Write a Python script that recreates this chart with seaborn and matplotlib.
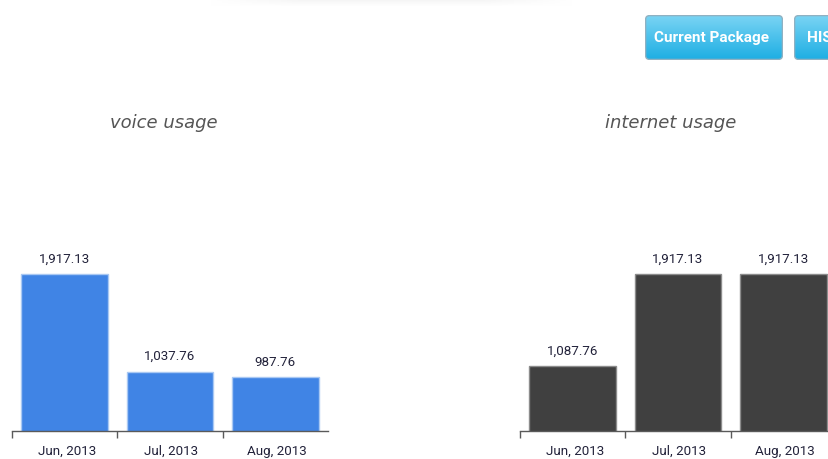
import numpy as np
import pandas as pd
import matplotlib
matplotlib.use("Agg")
import matplotlib.pyplot as plt
from matplotlib.patches import FancyBboxPatch
from matplotlib.colors import LinearSegmentedColormap
import seaborn as sns

# ---- data -------------------------------------------------------------
months = ["Jun, 2013", "Jul, 2013", "Aug, 2013"]
voice_usage = [1917.13, 1037.76, 987.76]
internet_usage = [1087.76, 1917.13, 1917.13]
chart_titles = ["voice usage", "internet usage"]
button_labels = ["Current Package", "HISTORY"]

# ---- canvas -----------------------------------------------------------
W, H, DPI = 829, 459, 100
sns.set_theme(style="white")
plt.rcParams["font.family"] = ["Roboto", "DejaVu Sans"]

fig = plt.figure(figsize=(W / DPI, H / DPI), dpi=DPI)
fig.patch.set_facecolor("white")


def px_rect(x0, y0, x1, y1):
    """Pixel box (origin top-left) -> figure-fraction rect."""
    return [x0 / W, 1 - y1 / H, (x1 - x0) / W, (y1 - y0) / H]


Y_MIN, Y_MAX = 500, 3200
PX_PER_UNIT = 0.1106
BASELINE = 431
TOP = BASELINE - (Y_MAX - Y_MIN) * PX_PER_UNIT
LABEL_COLOR = "#22223a"


def usage_panel(x0, values, color, edge):
    ax = fig.add_axes(px_rect(x0, TOP, x0 + 316, BASELINE))
    df = pd.DataFrame({"month": months, "value": values})
    sns.barplot(data=df, x="month", y="value", ax=ax, color=color,
                saturation=1, width=0.82, edgecolor=edge, linewidth=1.0)
    ax.set_xlim(-0.5, 2.5)
    ax.set_ylim(Y_MIN, Y_MAX)
    ax.set_xlabel("")
    ax.set_ylabel("")
    ax.set_yticks([])
    ax.set_facecolor("none")
    for side in ("left", "top", "right"):
        ax.spines[side].set_visible(False)
    ax.spines["bottom"].set_color("#5a5a5a")
    ax.spines["bottom"].set_linewidth(1.0)

    # band separators as major ticks, month names as minor tick labels
    ax.set_xticks([-0.5, 0.5, 1.5])
    ax.set_xticklabels(["", "", ""])
    ax.set_xticks([0.02, 1.01, 2.01], minor=True)
    ax.set_xticklabels(months, minor=True)
    ax.tick_params(axis="x", which="major", bottom=True, length=5,
                   width=1.0, color="#5a5a5a", direction="out")
    ax.tick_params(axis="x", which="minor", bottom=True, length=0, pad=10,
                   labelsize=9.6, labelcolor=LABEL_COLOR)

    ax.bar_label(ax.containers[0],
                 labels=[f"{v:,.2f}" for v in values],
                 padding=6, fontsize=9.6, color=LABEL_COLOR)
    return ax


usage_panel(12, voice_usage, "#4084e5", "#a9c8f3")
usage_panel(520, internet_usage, "#404040", "#8c8c8c")

# ---- panel headings --------------------------------------------------
for title, cx in zip(chart_titles, (164, 671)):
    fig.text(cx / W, 1 - 123 / H, title, ha="center", va="center",
             family="DejaVu Sans", style="oblique", fontsize=13,
             color="#555555")

# ---- navigation buttons ----------------------------------------------
btn_cmap = LinearSegmentedColormap.from_list("btn", ["#7ad4f4", "#1daee3"])


def button(x0, y0, x1, y1, label, text_x):
    bw, bh = x1 - x0, y1 - y0
    bax = fig.add_axes(px_rect(x0, y0, x1, y1))
    bax.set_xlim(0, bw)
    bax.set_ylim(bh, 0)
    bax.axis("off")
    grad = np.linspace(0, 1, 64)[:, None]
    im = bax.imshow(grad, extent=(0, bw, bh, 0), cmap=btn_cmap,
                    aspect="auto", interpolation="bilinear")
    box = FancyBboxPatch((0.6, 0.6), bw - 1.2, bh - 1.2,
                         boxstyle="round,pad=0,rounding_size=4",
                         fc="none", ec="#8fb1c2", lw=1.0)
    bax.add_patch(box)
    im.set_clip_path(box)
    bax.text(text_x, bh / 2 + 0.5, label, ha="left", va="center",
             color="white", fontsize=11, fontweight="bold",
             family="Roboto")


button(645, 15, 783, 60, button_labels[0], 9)
button(794, 15, 900, 60, button_labels[1], 13)

# ---- faint banner reflection along the top edge ----------------------
bax = fig.add_axes(px_rect(205, 0, 578, 6))
bax.axis("off")
fade = np.ones((6, 64, 4))
fade[..., :3] = 0.95
fade[..., 3] = np.minimum(1, np.minimum(np.linspace(0, 4, 64), np.linspace(4, 0, 64)))[None, :] \
    * np.linspace(0.7, 0.1, 6)[:, None]
bax.imshow(fade, extent=(0, 1, 0, 1), aspect="auto")

fig.savefig("out.png", dpi=DPI, facecolor="white")
